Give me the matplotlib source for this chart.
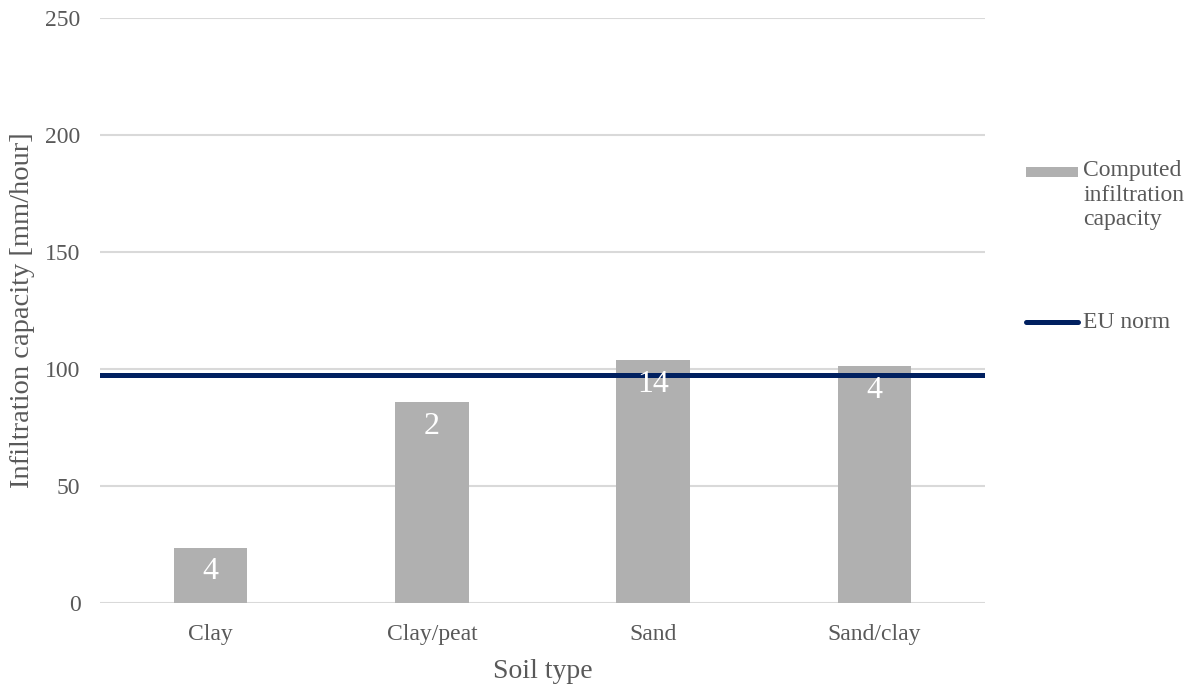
import matplotlib
matplotlib.use("Agg")
import matplotlib.pyplot as plt
from matplotlib.patches import Rectangle
from matplotlib.lines import Line2D

# Data
soil_types = ["Clay", "Clay/peat", "Sand", "Sand/clay"]
infiltration = [23.7, 85.7, 103.7, 101.1]
sample_counts = [4, 2, 14, 4]
eu_norm = 97.5
y_ticks = [0, 50, 100, 150, 200, 250]

BAR_COLOR = "#b0b0b0"
NORM_COLOR = "#002060"
TEXT_COLOR = "#595959"
GRID_COLOR = "#d9d9d9"

plt.rcParams["font.family"] = ["Liberation Serif", "DejaVu Serif"]

W, H = 1195, 685
fig = plt.figure(figsize=(W / 100, H / 100), dpi=100)
ax = fig.add_axes([100 / W, 1 - 603 / H, 885 / W, (603 - 18) / H])

x = list(range(len(soil_types)))
ax.bar(x, infiltration, width=0.333, color=BAR_COLOR, zorder=2)
ax.axhline(eu_norm, color=NORM_COLOR, lw=3.6, zorder=3)

for xi, v, n in zip(x, infiltration, sample_counts):
    ax.annotate(str(n), (xi, v), xytext=(0, -17.5), textcoords="offset points",
                ha="center", va="center", color="white", fontsize=23, zorder=4)

ax.set_xlim(-0.5, len(soil_types) - 0.5)
ax.set_ylim(0, 250)
ax.set_yticks(y_ticks)
ax.set_xticks(x)
ax.set_xticklabels(soil_types)
ax.tick_params(axis="both", length=0, labelsize=17, labelcolor=TEXT_COLOR)
ax.tick_params(axis="y", pad=14)
ax.tick_params(axis="x", pad=15)
ax.grid(axis="y", color=GRID_COLOR, lw=1.5, zorder=0)
ax.set_axisbelow(True)
for s in ax.spines.values():
    s.set_visible(False)

ax.set_xlabel("Soil type", fontsize=20, color=TEXT_COLOR, labelpad=10)
ax.set_ylabel("Infiltration capacity [mm/hour]", fontsize=20.5, color=TEXT_COLOR, labelpad=7)

# Legend entries on the right
fig.add_artist(Rectangle((1026 / W, 1 - 177 / H), 52 / W, 10 / H,
                         transform=fig.transFigure, color=BAR_COLOR, lw=0))
fig.text(1083 / W, 1 - 160 / H, "Computed\ninfiltration\ncapacity", ha="left", va="top",
         fontsize=17, color=TEXT_COLOR, linespacing=1.22)
fig.add_artist(Line2D([1026 / W, 1078 / W], [1 - 322 / H, 1 - 322 / H],
                      transform=fig.transFigure, color=NORM_COLOR, lw=3.6,
                      solid_capstyle="round"))
fig.text(1083 / W, 1 - 322 / H, "EU norm", ha="left", va="center",
         fontsize=17, color=TEXT_COLOR)

fig.savefig("out.png", dpi=100, facecolor="white")
